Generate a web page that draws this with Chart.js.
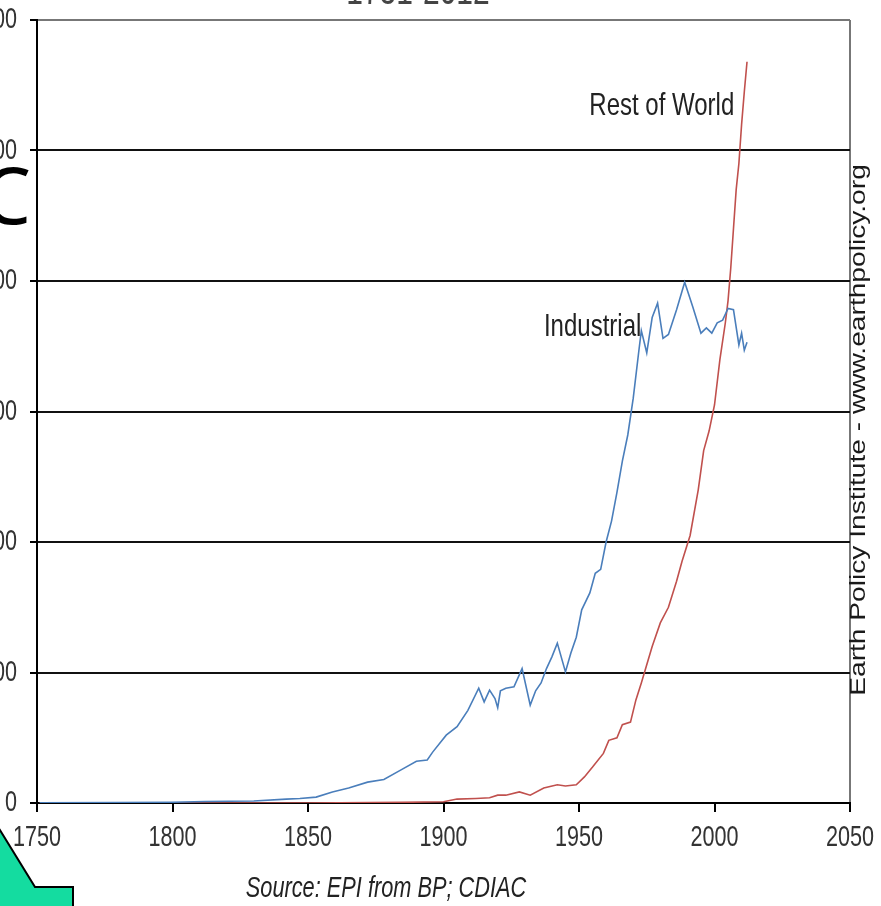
<!DOCTYPE html>
<html><head><meta charset="utf-8">
<script src="https://cdn.jsdelivr.net/npm/chart.js@4/dist/chart.umd.min.js"></script>
<style>
html,body{margin:0;padding:0;background:#fff;}
#wrap{position:relative;width:881px;height:906px;overflow:hidden;background:#fff;}
#c{position:absolute;left:-40px;top:0;}
</style></head><body>
<div id="wrap"><canvas id="c" width="921" height="906"></canvas></div>
<script>
// ---- data (million tons of carbon) ----
const industrialYears = [1751,1780,1800,1812,1830,1842,1847,1853,1859,1865,1872,1878,1884,1890,1894,1896,1901,1905,1909,1913,1915,1917,1919,1920,1921,1923,1926,1929,1932,1934,1936,1938,1940,1942,1945,1947,1949,1951,1954,1956,1958,1960,1962,1964,1966,1968,1970,1972,1973,1975,1977,1979,1981,1983,1986,1989,1992,1995,1997,1999,2001,2003,2005,2007,2009,2010,2011,2012];
const industrialValues = [2,4,6,12,15,30,35,45,85,115,160,180,250,320,330,390,520,585,710,880,775,865,800,730,860,880,890,1030,750,860,920,1030,1120,1225,1005,1150,1270,1480,1610,1760,1790,2000,2160,2380,2620,2820,3100,3450,3620,3450,3720,3830,3560,3590,3780,3990,3800,3600,3640,3600,3680,3700,3790,3780,3510,3600,3470,3530];
const restYears = [1751,1850,1885,1900,1905,1912,1917,1920,1923,1928,1932,1937,1942,1945,1949,1952,1955,1959,1961,1964,1966,1969,1971,1973,1975,1977,1980,1983,1986,1988,1991,1994,1996,1998,2000,2002,2004,2005,2006,2007,2008,2009,2010,2011,2012];
const restValues = [0,0,5,10,30,35,40,60,60,85,60,115,140,130,140,200,275,380,480,500,600,620,790,920,1060,1200,1380,1500,1700,1850,2050,2400,2700,2850,3050,3400,3680,3850,4100,4400,4700,4900,5200,5450,5680];
const xTicks = {min:1750, max:2050, step:50};
const yTicks = {min:0, max:6000, step:1000};
const seriesNames = ['Industrial','Rest of World'];
const titleText = '1751-2012';
const sideText = 'Earth Policy Institute - www.earthpolicy.org';
const sourceText = 'Source: EPI from BP; CDIAC';

const SHIFT = 40;
const FONT = "'Liberation Sans',Arial,sans-serif";
const toXY = (xs, ys) => xs.map((x,i)=>({x:x, y:ys[i]}));

// condensed text rendering (reference text is horizontally narrow)
let textScaleX = 0.72;
const condense = {
  id:'condense',
  beforeInit(chart){
    const ctx = chart.ctx;
    const orig = ctx.fillText;
    ctx._origFillText = orig;
    ctx.fillText = function(t, x, y, w){
      this.save();
      this.translate(x, y);
      this.scale(textScaleX, 1);
      if (w === undefined) orig.call(this, t, 0, 0);
      else orig.call(this, t, 0, 0, w / textScaleX);
      this.restore();
    };
  }
};

const deco = {
  id:'deco',
  afterDraw(chart){
    const ctx = chart.ctx, xs = chart.scales.x, ys = chart.scales.y;
    ctx.save();
    // series labels
    textScaleX = 0.75;
    ctx.fillStyle = '#222';
    ctx.font = "32px " + FONT;
    ctx.textAlign = 'right'; ctx.textBaseline = 'middle';
    ctx.fillText(seriesNames[1], xs.getPixelForValue(2007.3), ys.getPixelForValue(5340));
    ctx.fillText(seriesNames[0], xs.getPixelForValue(1973), ys.getPixelForValue(3650));
    // source
    ctx.font = "italic 29px " + FONT;
    ctx.textAlign = 'center';
    ctx.fillText(sourceText, 386 + SHIFT, 889);
    // title fragment (cut off at top)
    ctx.font = "40px " + FONT;
    ctx.fillStyle = '#444';
    ctx.textAlign = 'center'; ctx.textBaseline = 'alphabetic';
    ctx.fillText(titleText, 418 + SHIFT, 4);
    textScaleX = 0.72;
    // side text rotated
    ctx.save();
    ctx.translate(859 + SHIFT, 430);
    ctx.rotate(-Math.PI/2);
    ctx.scale(1.28, 1);
    ctx.font = "22px " + FONT;
    ctx.fillStyle = '#1a1a1a';
    ctx.textAlign = 'center'; ctx.textBaseline = 'middle';
    ctx._origFillText.call(ctx, sideText, 0, 0);
    ctx.restore();
    // big letter from slide overlay
    ctx.font = "78px 'Noto Sans',sans-serif";
    ctx.fillStyle = '#000';
    ctx.textAlign = 'right'; ctx.textBaseline = 'alphabetic';
    ctx._origFillText.call(ctx, 'C', 31 + SHIFT, 224);
    // green callout shape
    ctx.beginPath();
    ctx.moveTo(SHIFT - 5, 822);
    ctx.lineTo(35 + SHIFT, 887);
    ctx.lineTo(73 + SHIFT, 887);
    ctx.lineTo(73 + SHIFT, 912);
    ctx.lineTo(SHIFT - 5, 912);
    ctx.closePath();
    ctx.fillStyle = '#14dca0';
    ctx.fill();
    ctx.beginPath();
    ctx.moveTo(SHIFT - 5, 822);
    ctx.lineTo(35 + SHIFT, 887);
    ctx.lineTo(73 + SHIFT, 887);
    ctx.lineTo(73 + SHIFT, 912);
    ctx.strokeStyle = '#000'; ctx.lineWidth = 2;
    ctx.stroke();
    ctx.restore();
  }
};

const zeroPad = s => { s.paddingTop = 0; s.paddingBottom = 0; s.paddingLeft = 0; s.paddingRight = 0; };

new Chart(document.getElementById('c'), {
  type:'line',
  data:{
    datasets:[
      {label:seriesNames[0], data:toXY(industrialYears, industrialValues), borderColor:'#4a7ebb', borderWidth:1.6, pointRadius:0, tension:0, fill:false},
      {label:seriesNames[1], data:toXY(restYears, restValues), borderColor:'#c0504d', borderWidth:1.6, pointRadius:0, tension:0, fill:false}
    ]
  },
  options:{
    responsive:false, animation:false, devicePixelRatio:1,
    layout:{padding:{left:0, right:31, top:20, bottom:0}},
    plugins:{legend:{display:false}, tooltip:{enabled:false}, title:{display:false}},
    scales:{
      x:{
        type:'linear', min:xTicks.min, max:xTicks.max,
        afterFit(s){ s.height = 103; zeroPad(s); },
        ticks:{stepSize:xTicks.step, color:'#333', font:{family:FONT, size:30}, padding:8, maxRotation:0, autoSkip:false, callback:v=>String(v)},
        grid:{color:c=>(c.tick && c.tick.value===xTicks.max)?'#777':'rgba(0,0,0,0)', lineWidth:2, tickLength:9, tickColor:'#000', drawTicks:true},
        border:{color:'#000', width:2}
      },
      y:{
        min:yTicks.min, max:yTicks.max,
        afterFit(s){ s.width = 37 + SHIFT; zeroPad(s); },
        ticks:{stepSize:yTicks.step, color:'#333', font:{family:FONT, size:30}, padding:13},
        grid:{color:c=>(c.tick && c.tick.value===yTicks.max)?'#777':'#111', lineWidth:2, tickLength:7, tickColor:'#000', drawTicks:true},
        border:{color:'#000', width:2}
      }
    }
  },
  plugins:[condense, deco]
});
</script>
</body></html>
